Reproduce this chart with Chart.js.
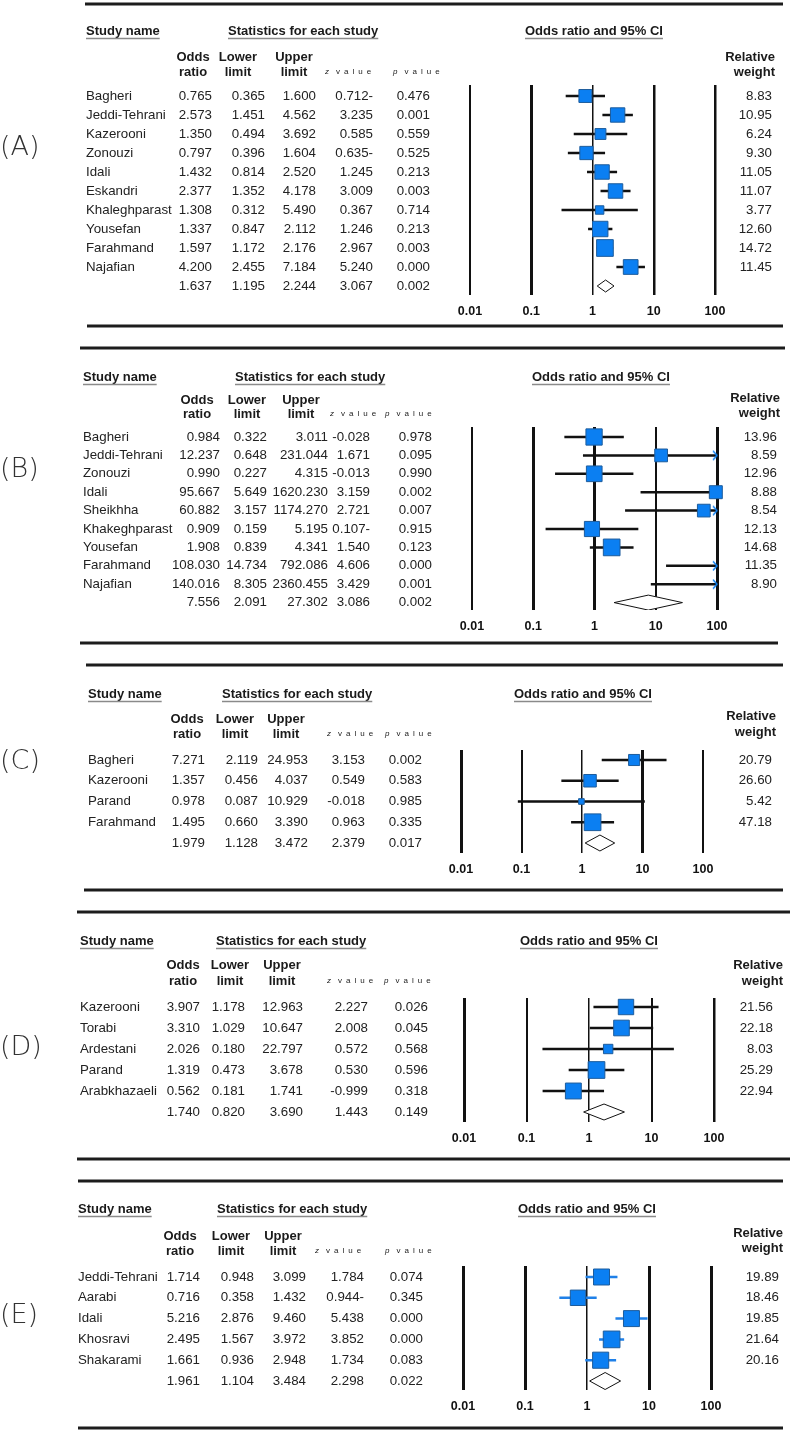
<!DOCTYPE html>
<html>
<head>
<meta charset="utf-8">
<script src="https://cdn.jsdelivr.net/npm/chart.js@4.4.1/dist/chart.umd.min.js"></script>
<style>
  html, body { margin: 0; padding: 0; background: #fff; }
  #page { position: relative; width: 790px; height: 1433px; overflow: hidden; background: #fff; }
  #page canvas { position: absolute; left: 0; }
</style>
</head>
<body>
<div id="page"></div>
<script>
const tickValues = [0.01, 0.1, 1, 10, 100];

// panel A
const studiesA = ['Bagheri', 'Jeddi-Tehrani', 'Kazerooni', 'Zonouzi', 'Idali', 'Eskandri', 'Khaleghparast', 'Yousefan', 'Farahmand', 'Najafian'];
const orA = [0.765, 2.573, 1.350, 0.797, 1.432, 2.377, 1.308, 1.337, 1.597, 4.200];
const lowerA = [0.365, 1.451, 0.494, 0.396, 0.814, 1.352, 0.312, 0.847, 1.172, 2.455];
const upperA = [1.600, 4.562, 3.692, 1.604, 2.520, 4.178, 5.490, 2.112, 2.176, 7.184];
const zA = ['0.712-', '3.235', '0.585', '0.635-', '1.245', '3.009', '0.367', '1.246', '2.967', '5.240'];
const pA = [0.476, 0.001, 0.559, 0.525, 0.213, 0.003, 0.714, 0.213, 0.003, 0.000];
const weightA = [8.83, 10.95, 6.24, 9.30, 11.05, 11.07, 3.77, 12.60, 14.72, 11.45];
const pooledA = [1.637, 1.195, 2.244, '3.067', 0.002];

// panel B
const studiesB = ['Bagheri', 'Jeddi-Tehrani', 'Zonouzi', 'Idali', 'Sheikhha', 'Khakeghparast', 'Yousefan', 'Farahmand', 'Najafian'];
const orB = [0.984, 12.237, 0.990, 95.667, 60.882, 0.909, 1.908, 108.030, 140.016];
const lowerB = [0.322, 0.648, 0.227, 5.649, 3.157, 0.159, 0.839, 14.734, 8.305];
const upperB = [3.011, 231.044, 4.315, 1620.230, 1174.270, 5.195, 4.341, 792.086, 2360.455];
const zB = ['-0.028', '1.671', '-0.013', '3.159', '2.721', '0.107-', '1.540', '4.606', '3.429'];
const pB = [0.978, 0.095, 0.990, 0.002, 0.007, 0.915, 0.123, 0.000, 0.001];
const weightB = [13.96, 8.59, 12.96, 8.88, 8.54, 12.13, 14.68, 11.35, 8.90];
const pooledB = [7.556, 2.091, 27.302, '3.086', 0.002];

// panel C
const studiesC = ['Bagheri', 'Kazerooni', 'Parand', 'Farahmand'];
const orC = [7.271, 1.357, 0.978, 1.495];
const lowerC = [2.119, 0.456, 0.087, 0.660];
const upperC = [24.953, 4.037, 10.929, 3.390];
const zC = ['3.153', '0.549', '-0.018', '0.963'];
const pC = [0.002, 0.583, 0.985, 0.335];
const weightC = [20.79, 26.60, 5.42, 47.18];
const pooledC = [1.979, 1.128, 3.472, '2.379', 0.017];

// panel D
const studiesD = ['Kazerooni', 'Torabi', 'Ardestani', 'Parand', 'Arabkhazaeli'];
const orD = [3.907, 3.310, 2.026, 1.319, 0.562];
const lowerD = [1.178, 1.029, 0.180, 0.473, 0.181];
const upperD = [12.963, 10.647, 22.797, 3.678, 1.741];
const zD = ['2.227', '2.008', '0.572', '0.530', '-0.999'];
const pD = [0.026, 0.045, 0.568, 0.596, 0.318];
const weightD = [21.56, 22.18, 8.03, 25.29, 22.94];
const pooledD = [1.740, 0.820, 3.690, '1.443', 0.149];

// panel E
const studiesE = ['Jeddi-Tehrani', 'Aarabi', 'Idali', 'Khosravi', 'Shakarami'];
const orE = [1.714, 0.716, 5.216, 2.495, 1.661];
const lowerE = [0.948, 0.358, 2.876, 1.567, 0.936];
const upperE = [3.099, 1.432, 9.460, 3.972, 2.948];
const zE = ['1.784', '0.944-', '5.438', '3.852', '1.734'];
const pE = [0.074, 0.345, 0.000, 0.000, 0.083];
const weightE = [19.89, 18.46, 19.85, 21.64, 20.16];
const pooledE = [1.961, 1.104, 3.484, '2.298', 0.022];

const FONT = '"Liberation Sans", Arial, Helvetica, sans-serif';
const BLUE = '#0b7ff2';
const AXIS_H = 30;

// layout of each panel (page coordinates)
const panels = [
  { label: '(A)', top: 0, bottom: 337, labelY: 148,
    studies: studiesA, or: orA, lower: lowerA, upper: upperA, z: zA, p: pA, weight: weightA, pooled: pooledA,
    rules: [[4, 85, 783], [326, 87, 783]],
    head1Y: 31, nameX: 86, statsX: 228, ciX: 525,
    head2Y: [57, 72], headCx: [193, 238, 294], zX: 325, pX: 393, relX: 775, relY: [57, 72],
    rowY0: 96, rowH: 19, cols: [212, 265, 316, 373, 430], wX: 772,
    plot: [470, 715, 85, 295], gridW: [2, 3, 1.5, 2.5, 2.5], diamondH: 6, ciColor: '#111' },
  { label: '(B)', top: 337, bottom: 654, labelY: 470,
    studies: studiesB, or: orB, lower: lowerB, upper: upperB, z: zB, p: pB, weight: weightB, pooled: pooledB,
    rules: [[348, 80, 785], [643, 80, 778]],
    head1Y: 377, nameX: 83, statsX: 235, ciX: 532,
    head2Y: [400, 414], headCx: [197, 247, 301], zX: 330, pX: 385, relX: 780, relY: [398, 413],
    rowY0: 437, rowH: 18.4, cols: [220, 267, 328, 370, 432], wX: 777,
    plot: [472, 717, 427, 610], gridW: [2, 3, 3, 2, 3], diamondH: 7.5, ciColor: '#111' },
  { label: '(C)', top: 654, bottom: 901, labelY: 762,
    studies: studiesC, or: orC, lower: lowerC, upper: upperC, z: zC, p: pC, weight: weightC, pooled: pooledC,
    rules: [[665, 86, 783], [890, 84, 783]],
    head1Y: 694, nameX: 88, statsX: 222, ciX: 514,
    head2Y: [719, 734], headCx: [187, 235, 286], zX: 327, pX: 385, relX: 776, relY: [716, 732],
    rowY0: 760, rowH: 20.75, cols: [205, 258, 308, 365, 422], wX: 772,
    plot: [461, 703, 750, 853], gridW: [3, 2, 1.5, 3, 2], diamondH: 8, ciColor: '#111' },
  { label: '(D)', top: 901, bottom: 1170, labelY: 1048,
    studies: studiesD, or: orD, lower: lowerD, upper: upperD, z: zD, p: pD, weight: weightD, pooled: pooledD,
    rules: [[912, 77, 790], [1159, 77, 790]],
    head1Y: 941, nameX: 80, statsX: 216, ciX: 520,
    head2Y: [965, 981], headCx: [183, 230, 282], zX: 327, pX: 384, relX: 783, relY: [965, 981],
    rowY0: 1007, rowH: 21, cols: [200, 245, 303, 368, 428], wX: 773,
    plot: [464, 714, 998, 1122], gridW: [3, 2, 1.5, 2, 2.5], diamondH: 8, ciColor: '#111' },
  { label: '(E)', top: 1170, bottom: 1433, labelY: 1316,
    studies: studiesE, or: orE, lower: lowerE, upper: upperE, z: zE, p: pE, weight: weightE, pooled: pooledE,
    rules: [[1181, 78, 783], [1428, 78, 783]],
    head1Y: 1209, nameX: 78, statsX: 217, ciX: 518,
    head2Y: [1236, 1251], headCx: [180, 231, 283], zX: 315, pX: 385, relX: 783, relY: [1233, 1248],
    rowY0: 1277, rowH: 20.8, cols: [200, 254, 306, 364, 423], wX: 779,
    plot: [463, 711, 1266, 1390], gridW: [3, 3, 1.5, 3, 3], diamondH: 8.5, ciColor: '#1f80e8' }
];

function arrowImage(color) {
  const c = document.createElement('canvas');
  c.width = 14; c.height = 12;
  const g = c.getContext('2d');
  g.strokeStyle = color; g.lineWidth = 1.5;
  g.beginPath(); g.moveTo(3, 1.5); g.lineTo(7, 6); g.lineTo(3, 10.5); g.stroke();
  return c;
}

function underlined(ctx, text, x, y) {
  ctx.fillText(text, x, y);
  const w = ctx.measureText(text).width;
  ctx.save();
  ctx.strokeStyle = '#8a8a8a'; ctx.lineWidth = 1.5;
  ctx.beginPath(); ctx.moveTo(x, y + 7.5); ctx.lineTo(x + w, y + 7.5); ctx.stroke();
  ctx.restore();
}

function spaced(ctx, letter, rest, x, y) {
  ctx.font = 'italic 8px ' + FONT;
  ctx.fillText(letter, x, y);
  x += ctx.measureText(letter).width + 7;
  ctx.font = '8px ' + FONT;
  for (const ch of rest) {
    ctx.fillText(ch, x, y);
    x += ctx.measureText(ch).width + 4;
  }
}

function tablePlugin(P) {
  return {
    id: 'forestTable',
    afterDraw(chart) {
      const ctx = chart.ctx;
      const yS = chart.scales.y;
      const Y = v => v - P.top;
      ctx.save();
      // horizontal rules
      ctx.strokeStyle = '#1c1c1c'; ctx.lineWidth = 3;
      P.rules.forEach(([y, x1, x2]) => {
        ctx.beginPath(); ctx.moveTo(x1, Y(y)); ctx.lineTo(x2, Y(y)); ctx.stroke();
      });
      // panel label
      ctx.fillStyle = '#333'; ctx.textBaseline = 'middle'; ctx.textAlign = 'left';
      ctx.font = '200 27px "DejaVu Sans", Lato, sans-serif';
      ctx.fillText(P.label, 0, Y(P.labelY));

      // headers
      ctx.fillStyle = '#1a1a1a';
      ctx.font = 'bold 13px ' + FONT;
      underlined(ctx, 'Study name', P.nameX, Y(P.head1Y));
      underlined(ctx, 'Statistics for each study', P.statsX, Y(P.head1Y));
      underlined(ctx, 'Odds ratio and 95% CI', P.ciX, Y(P.head1Y));
      ctx.textAlign = 'center';
      [['Odds', 'ratio'], ['Lower', 'limit'], ['Upper', 'limit']].forEach((pair, k) => {
        ctx.fillText(pair[0], P.headCx[k], Y(P.head2Y[0]));
        ctx.fillText(pair[1], P.headCx[k], Y(P.head2Y[1]));
      });
      ctx.textAlign = 'right';
      ctx.fillText('Relative', P.relX, Y(P.relY[0]));
      ctx.fillText('weight', P.relX, Y(P.relY[1]));
      ctx.textAlign = 'left';
      spaced(ctx, 'z', 'value', P.zX, Y(P.head2Y[1]));
      spaced(ctx, 'p', 'value', P.pX, Y(P.head2Y[1]));

      // rows
      ctx.fillStyle = '#222';
      ctx.font = '13.3px ' + FONT;
      const n = P.studies.length;
      for (let i = 0; i <= n; i++) {
        const y = yS.getPixelForValue(i);
        let vals;
        if (i < n) {
          ctx.textAlign = 'left';
          ctx.fillText(P.studies[i], P.nameX, y);
          vals = [P.or[i].toFixed(3), P.lower[i].toFixed(3), P.upper[i].toFixed(3), P.z[i], P.p[i].toFixed(3)];
          ctx.textAlign = 'right';
          ctx.fillText(P.weight[i].toFixed(2), P.wX, y);
        } else {
          const q = P.pooled;
          vals = [q[0].toFixed(3), q[1].toFixed(3), q[2].toFixed(3), q[3], q[4].toFixed(3)];
        }
        ctx.textAlign = 'right';
        vals.forEach((s, k) => ctx.fillText(s, P.cols[k], y));
      }
      ctx.restore();
    }
  };
}

function buildPanel(P) {
  const n = P.studies.length;
  const h = P.bottom - P.top;
  const canvas = document.createElement('canvas');
  canvas.width = 790; canvas.height = h;
  canvas.style.top = P.top + 'px';
  document.getElementById('page').appendChild(canvas);

  const [pl, pr, pt, pb] = P.plot;
  const yMin = -(P.rowY0 - pt) / P.rowH;
  const yMax = yMin + (pb - pt) / P.rowH;
  const xMax = tickValues[tickValues.length - 1];
  const wMax = Math.max(...P.weight);

  const squares = [], radii = [];
  P.or.forEach((v, i) => {
    if (v <= xMax) {
      squares.push({ x: v, y: i });
      radii.push(11.8 * Math.sqrt(P.weight[i] / wMax));
    }
  });
  const ci = [];
  P.lower.forEach((lo, i) => {
    ci.push({ x: lo, y: i }, { x: P.upper[i], y: i }, { x: P.upper[i], y: null });
  });
  const arrows = [];
  P.upper.forEach((u, i) => { if (u > xMax) arrows.push({ x: xMax, y: i }); });
  const [por, plo, phi] = P.pooled;
  const d = P.diamondH / P.rowH;
  const diamond = [
    { x: plo, y: n }, { x: por, y: n - d }, { x: phi, y: n }, { x: por, y: n + d }, { x: plo, y: n }
  ];

  new Chart(canvas.getContext('2d'), {
    type: 'scatter',
    data: {
      datasets: [
        { data: squares, pointStyle: 'rect', pointRadius: radii, backgroundColor: BLUE,
          borderColor: '#1d5c9c', borderWidth: 1, clip: false },
        { data: arrows, pointStyle: arrowImage(BLUE), pointRadius: 3, clip: false },
        { type: 'line', data: ci, borderColor: P.ciColor, borderWidth: 2.5, pointRadius: 0,
          spanGaps: false, fill: false, tension: 0 },
        { type: 'line', data: diamond, borderColor: '#111', borderWidth: 1, pointRadius: 0,
          backgroundColor: '#fff', fill: 'shape', tension: 0 }
      ]
    },
    options: {
      responsive: false,
      animation: false,
      devicePixelRatio: 1,
      events: [],
      layout: {
        padding: { left: pl, right: 790 - pr, top: pt - P.top, bottom: h - (pb - P.top) - AXIS_H }
      },
      plugins: { legend: { display: false }, tooltip: { enabled: false } },
      scales: {
        x: {
          type: 'logarithmic',
          min: tickValues[0],
          max: xMax,
          afterBuildTicks: s => { s.ticks = tickValues.map(v => ({ value: v })); },
          afterFit: s => { s.height = AXIS_H; },
          border: { display: false },
          grid: { color: '#111', lineWidth: c => P.gridW[c.index] || 2, drawTicks: false },
          ticks: {
            autoSkip: false, maxRotation: 0, padding: 9, color: '#111',
            font: { family: FONT, size: 12.5, weight: 'bold' },
            callback: v => String(v)
          }
        },
        y: { type: 'linear', display: false, reverse: true, bounds: 'data', min: yMin, max: yMax }
      }
    },
    plugins: [tablePlugin(P)]
  });
}

panels.forEach(buildPanel);
</script>
</body>
</html>
